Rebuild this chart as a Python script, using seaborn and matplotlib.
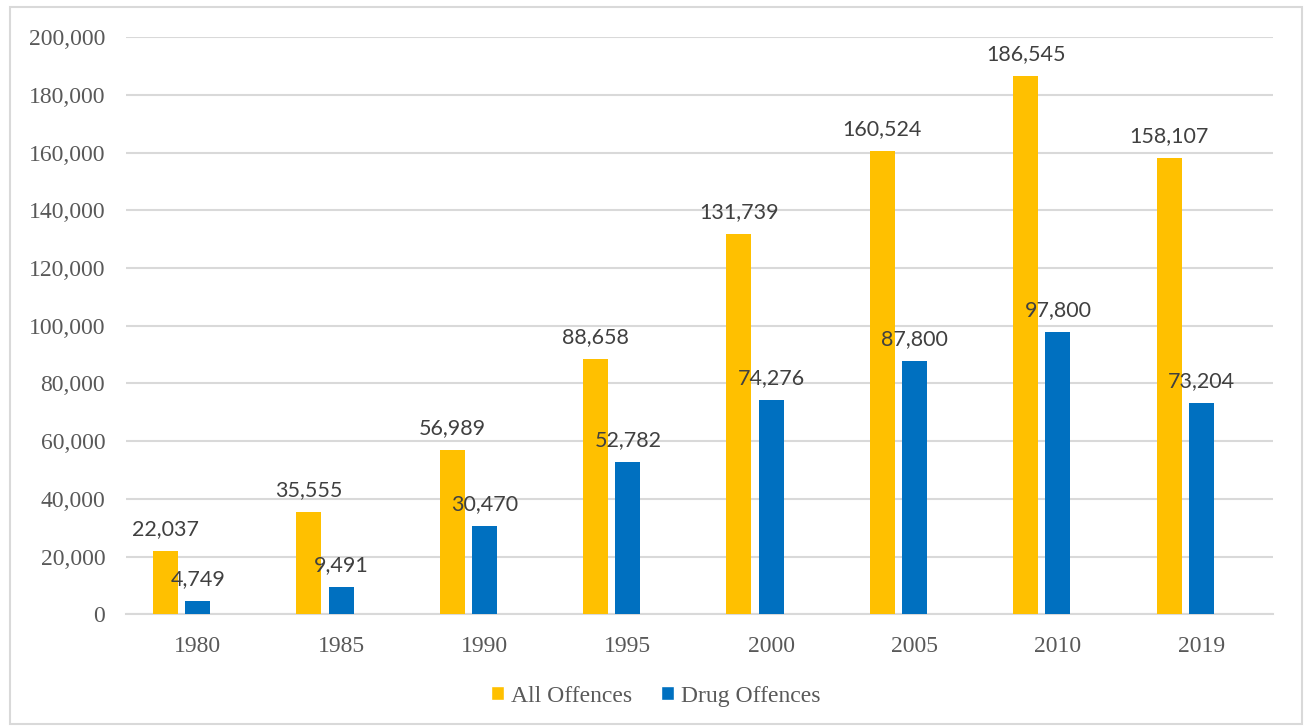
import matplotlib
matplotlib.use("Agg")
import matplotlib.pyplot as plt
from matplotlib.patches import Patch, Rectangle
from matplotlib.ticker import FuncFormatter, MultipleLocator
import pandas as pd
import seaborn as sns

# data
years = ["1980", "1985", "1990", "1995", "2000", "2005", "2010", "2019"]
all_offences = [22037, 35555, 56989, 88658, 131739, 160524, 186545, 158107]
drug_offences = [4749, 9491, 30470, 52782, 74276, 87800, 97800, 73204]
series_names = ["All Offences", "Drug Offences"]

yellow = "#FFC000"
blue = "#0070C0"
grid_col = "#D9D9D9"

df = pd.DataFrame({
    "year": years * 2,
    "value": all_offences + drug_offences,
    "series": [series_names[0]] * len(years) + [series_names[1]] * len(years),
})

sns.set_theme(style="white")
plt.rcParams["font.family"] = ["Liberation Serif", "DejaVu Serif"]

fig = plt.figure(figsize=(13.06, 7.26), dpi=100)
ax = fig.add_axes([0.0965, 0.1539, 0.8782, 0.7947])

# Excel leaves an empty third slot, so the pair sits left of the category centre
sns.barplot(data=df, x="year", y="value", hue="series",
            hue_order=series_names + ["_empty"],
            palette={series_names[0]: yellow, series_names[1]: blue, "_empty": "white"},
            saturation=1, width=0.674, gap=0.225, linewidth=0, legend=False,
            ax=ax, zorder=3)

for cont in ax.containers[:2]:
    ax.bar_label(cont, labels=[f"{v:,.0f}" for v in cont.datavalues],
                 padding=8.5, fontsize=15.5, color="#404040", family="Lato")

ax.set_ylim(0, 200000)
ax.yaxis.set_major_locator(MultipleLocator(20000))
ax.yaxis.set_major_formatter(FuncFormatter(lambda v, p: f"{v:,.0f}"))
ax.grid(axis="y", color=grid_col, linewidth=1.5, zorder=0)
ax.set_axisbelow(True)
for s in ["left", "right", "top"]:
    ax.spines[s].set_visible(False)
ax.spines["bottom"].set_color(grid_col)
ax.spines["bottom"].set_linewidth(1.5)
ax.set_xlabel("")
ax.set_ylabel("")
ax.tick_params(axis="both", length=0, labelsize=17, labelcolor="#595959")
ax.tick_params(axis="x", pad=15.5)
ax.tick_params(axis="y", pad=15)

handles = [Patch(facecolor=yellow, label=series_names[0]),
           Patch(facecolor=blue, label=series_names[1])]
fig.legend(handles=handles, loc="center", bbox_to_anchor=(0.502, 0.041), ncol=2,
           frameon=False, fontsize=17, labelcolor="#595959",
           handlelength=0.55, handleheight=0.55, handletextpad=0.3,
           columnspacing=1.2)

fig.patches.append(Rectangle((0.0077, 0.003), 0.9893, 0.9874, transform=fig.transFigure,
                             fill=False, edgecolor=grid_col, linewidth=1.5))

fig.savefig("out.png", dpi=100)
